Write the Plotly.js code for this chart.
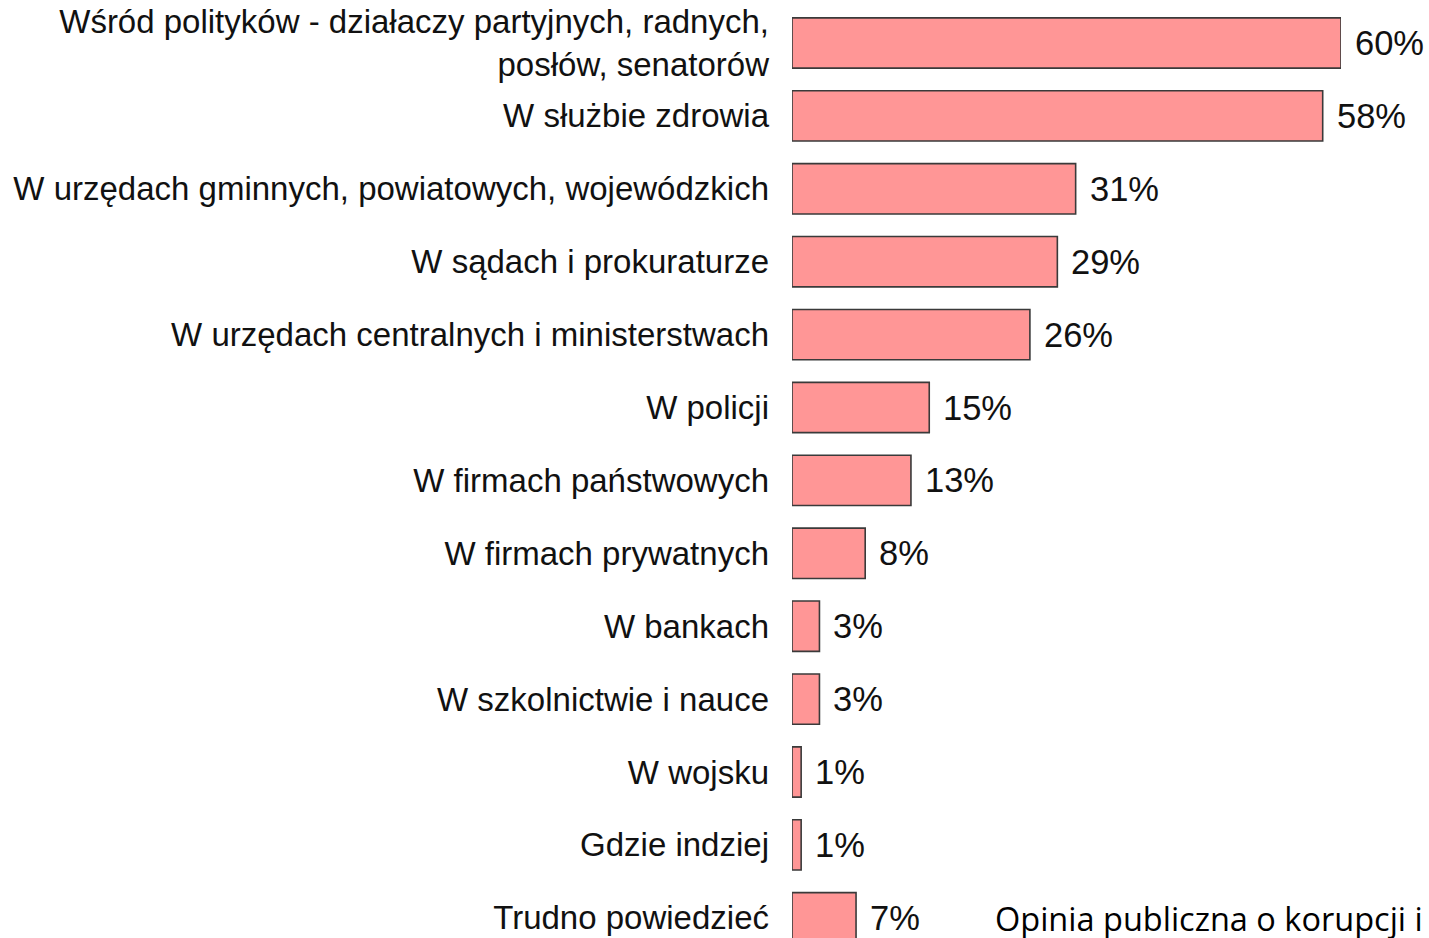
<!DOCTYPE html>
<html><head><meta charset="utf-8">
<script src="https://cdn.plot.ly/plotly-3.0.1.min.js"></script>
<style>html,body{margin:0;padding:0;background:#fff;overflow:hidden}</style>
</head><body><div id="chart" style="width:1429px;height:938px"></div>
<script>
const categories = [
  "Wśród polityków - działaczy partyjnych, radnych,<br>posłów, senatorów",
  "W służbie zdrowia",
  "W urzędach gminnych, powiatowych, wojewódzkich",
  "W sądach i prokuraturze",
  "W urzędach centralnych i ministerstwach",
  "W policji",
  "W firmach państwowych",
  "W firmach prywatnych",
  "W bankach",
  "W szkolnictwie i nauce",
  "W wojsku",
  "Gdzie indziej",
  "Trudno powiedzieć"
];
const values = [60, 58, 31, 29, 26, 15, 13, 8, 3, 3, 1, 1, 7];
const sourceNote = "Opinia publiczna o korupcji i lobbingu";

const L = 792, W = 549;
const idx = categories.map((_, i) => i);
const annotations = values.map((v, i) => ({
  x: v, y: i, xref: 'x', yref: 'y', text: v + '%', showarrow: false,
  xanchor: 'left', yanchor: 'middle', xshift: 12,
  font: {family: 'Liberation Sans, Arial, sans-serif', size: 34.5, color: '#111'}
}));
annotations.push({
  x: (993 - L) / W, y: 0, xref: 'paper', yref: 'paper', text: sourceNote, showarrow: false,
  xanchor: 'left', yanchor: 'bottom', yshift: -5,
  font: {family: 'Open Sans, sans-serif', size: 32.5, color: '#000'}
});

Plotly.newPlot('chart', [{
  type: 'bar', orientation: 'h',
  x: values, y: idx,
  width: 0.69,
  marker: {color: '#FF9696', line: {color: '#3a3a3a', width: 1.6}},
  hoverinfo: 'skip', cliponaxis: false
}], {
  width: 1429, height: 938,
  margin: {l: L, r: 1429 - L - W, t: 0, b: 0, pad: 0},
  paper_bgcolor: '#fff', plot_bgcolor: '#fff',
  showlegend: false,
  xaxis: {range: [0, 60], visible: false, showgrid: false, zeroline: false, fixedrange: true},
  yaxis: {
    type: 'linear', range: [12.277, -0.59], tickmode: 'array', tickvals: idx, ticktext: categories,
    showgrid: false, zeroline: false, showline: false, ticks: '',
    ticklabelstandoff: 22,
    tickfont: {family: 'Liberation Sans, Arial, sans-serif', size: 33, color: '#111'}
  },
  annotations: annotations
}, {staticPlot: true});
</script></body></html>
